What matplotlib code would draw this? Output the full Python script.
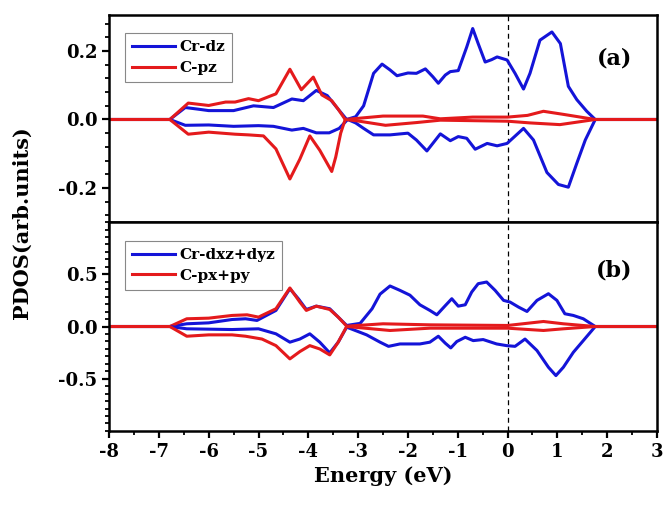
import numpy as np
import matplotlib
matplotlib.use("Agg")
import matplotlib.pyplot as plt
from matplotlib.ticker import MultipleLocator, FixedLocator

plt.rcParams['font.family'] = ['DejaVu Serif']
plt.rcParams['font.weight'] = 'bold'
plt.rcParams['axes.unicode_minus'] = False

# ---------------- Panel (a): Cr-dz / C-pz ----------------
a_cr_up_E = [-8, -6.78, -6.47, -6.2, -6.0, -5.5, -5.1, -4.7, -4.33, -4.1, -3.84, -3.62, -3.4, -3.23,
             -3.05, -2.89, -2.69, -2.52, -2.36, -2.22, -2.0, -1.83, -1.65, -1.5, -1.39, -1.25, -1.15, -0.99,
             -0.82, -0.70, -0.59, -0.45, -0.32, -0.21, -0.01, 0.15, 0.32, 0.45, 0.65, 0.89, 1.06,
             1.22, 1.39, 1.59, 1.76, 3.0]
a_cr_up = [0, 0, 0.035, 0.03, 0.026, 0.026, 0.04, 0.035, 0.06, 0.055, 0.085, 0.07, 0.03, 0.0,
           0.008, 0.04, 0.135, 0.162, 0.145, 0.128, 0.136, 0.135, 0.148, 0.125, 0.106, 0.13, 0.14, 0.143,
           0.212, 0.266, 0.222, 0.168, 0.175, 0.183, 0.174, 0.135, 0.089, 0.135, 0.232, 0.256, 0.222,
           0.097, 0.058, 0.024, 0.0, 0.0]

a_cr_dn_E = [-8, -6.78, -6.47, -6.0, -5.5, -5.0, -4.7, -4.33, -4.1, -3.84, -3.58, -3.38, -3.21,
             -3.05, -2.89, -2.69, -2.36, -2.0, -1.83, -1.62, -1.35, -1.15, -0.99, -0.82, -0.65, -0.41,
             -0.21, -0.01, 0.32, 0.52, 0.79, 1.02, 1.22, 1.39, 1.56, 1.76, 3.0]
a_cr_dn = [0, 0, -0.017, -0.016, -0.02, -0.018, -0.02, -0.031, -0.026, -0.039, -0.039, -0.026, 0.0,
           -0.01, -0.026, -0.045, -0.045, -0.04, -0.06, -0.092, -0.042, -0.062, -0.05, -0.055, -0.087, -0.07,
           -0.077, -0.07, -0.026, -0.06, -0.155, -0.19, -0.198, -0.128, -0.06, 0.0, 0.0]

a_c_up_E = [-8, -6.78, -6.41, -6.0, -5.66, -5.47, -5.2, -5.0, -4.65, -4.37, -4.14, -3.9, -3.73,
            -3.53, -3.4, -3.26, -2.5, -1.7, -1.35, -0.7, 0.0, 0.4, 0.72, 1.12, 1.76, 3.0]
a_c_up = [0, 0, 0.048, 0.041, 0.051, 0.051, 0.061, 0.055, 0.075, 0.147, 0.087, 0.124, 0.072,
          0.055, 0.03, 0.0, 0.01, 0.01, 0.002, 0.007, 0.007, 0.012, 0.024, 0.015, 0.0, 0.0]

a_c_dn_E = [-8, -6.78, -6.41, -6.0, -5.47, -5.2, -4.9, -4.65, -4.37, -4.17, -3.97, -3.77, -3.53,
            -3.45, -3.35, -3.26, -3.02, -2.45, -1.83, -1.35, 0.0, 0.45, 1.05, 1.76, 3.0]
a_c_dn = [0, 0, -0.043, -0.037, -0.043, -0.045, -0.048, -0.086, -0.174, -0.116, -0.048, -0.09, -0.152,
          -0.11, -0.04, 0.0, -0.004, -0.017, -0.009, -0.002, -0.005, -0.01, -0.015, 0.0, 0.0]

# ---------------- Panel (b): Cr-dxz+dyz / C-px+py ----------------
b_cr_up_E = [-8, -6.78, -6.44, -6.0, -5.53, -5.26, -5.03, -4.65, -4.37, -4.2, -4.04, -3.84, -3.57,
             -3.4, -3.23, -2.96, -2.72, -2.56, -2.36, -2.16, -1.96, -1.76, -1.56, -1.42, -1.25, -1.12,
             -0.99, -0.85, -0.72, -0.59, -0.42, -0.25, -0.08, 0.05, 0.22, 0.39, 0.59, 0.82, 0.99,
             1.15, 1.32, 1.52, 1.76, 3.0]
b_cr_up = [0, 0, 0.026, 0.035, 0.067, 0.074, 0.058, 0.154, 0.362, 0.266, 0.163, 0.195, 0.17,
           0.09, 0.01, 0.03, 0.17, 0.31, 0.388, 0.346, 0.3, 0.208, 0.154, 0.112, 0.2, 0.266,
           0.195, 0.208, 0.33, 0.41, 0.426, 0.346, 0.25, 0.234, 0.186, 0.144, 0.25, 0.314, 0.25,
           0.122, 0.106, 0.074, 0.0, 0.0]

b_cr_dn_E = [-8, -6.78, -6.44, -5.53, -5.0, -4.65, -4.37, -4.17, -3.97, -3.77, -3.57, -3.4, -3.23,
             -2.83, -2.56, -2.39, -2.16, -1.76, -1.56, -1.39, -1.25, -1.14, -1.02, -0.85, -0.69,
             -0.49, -0.22, -0.02, 0.15, 0.35, 0.59, 0.82, 0.97, 1.12, 1.32, 1.52, 1.76, 3.0]
b_cr_dn = [0, 0, -0.022, -0.029, -0.022, -0.07, -0.15, -0.12, -0.07, -0.15, -0.253, -0.15, -0.006,
           -0.08, -0.15, -0.19, -0.167, -0.167, -0.15, -0.093, -0.16, -0.205, -0.144, -0.103, -0.135,
           -0.125, -0.167, -0.183, -0.19, -0.12, -0.23, -0.39, -0.47, -0.39, -0.247, -0.135, 0.0, 0.0]

b_c_up_E = [-8, -6.78, -6.44, -6.0, -5.53, -5.23, -5.0, -4.65, -4.37, -4.17, -4.04, -3.84, -3.57,
            -3.4, -3.23, -2.5, -1.56, 0.0, 0.72, 1.12, 1.76, 3.0]
b_c_up = [0, 0, 0.074, 0.08, 0.106, 0.112, 0.09, 0.17, 0.369, 0.234, 0.154, 0.195, 0.163,
          0.09, 0.003, 0.026, 0.016, 0.01, 0.048, 0.026, 0.0, 0.0]

b_c_dn_E = [-8, -6.78, -6.44, -6.0, -5.53, -5.26, -4.93, -4.65, -4.37, -4.17, -3.97, -3.77, -3.57,
            -3.4, -3.23, -2.36, -1.56, 0.0, 0.72, 1.12, 1.76, 3.0]
b_c_dn = [0, 0, -0.093, -0.08, -0.08, -0.093, -0.12, -0.183, -0.31, -0.24, -0.183, -0.215, -0.272,
          -0.15, 0.0, -0.038, -0.016, -0.016, -0.038, -0.022, 0.0, 0.0]

labels_a = ["Cr-dz", "C-pz"]
labels_b = ["Cr-dxz+dyz", "C-px+py"]
xticks = list(range(-8, 4))

BLUE = '#1414d8'
RED = '#e41a1c'
LW = 2.2

fig = plt.figure(figsize=(6.65, 5.07), dpi=100)
ax_a = fig.add_axes([0.164, 0.562, 0.824, 0.408])
ax_b = fig.add_axes([0.164, 0.150, 0.824, 0.412])

def style(ax):
    for s in ax.spines.values():
        s.set_linewidth(1.8)
    ax.tick_params(axis='both', which='major', direction='out', length=5, width=1.6, labelsize=13)
    ax.tick_params(axis='both', which='minor', direction='out', length=3, width=1.3)
    ax.tick_params(top=False, right=False)
    ax.set_xlim(-8, 3)
    ax.xaxis.set_major_locator(FixedLocator(xticks))
    ax.xaxis.set_minor_locator(MultipleLocator(0.5))
    ax.axvline(0, color='black', lw=0.9, ls=(0, (4, 3)), zorder=1)

def legend(ax, anchor):
    leg = ax.legend(loc='upper left', bbox_to_anchor=anchor, borderaxespad=0,
                    fontsize=11, handlelength=2.8, handletextpad=0.3, borderpad=0.45,
                    labelspacing=0.45, fancybox=False, framealpha=1, edgecolor='#888888')
    leg.get_frame().set_linewidth(0.8)

# panel a
ax_a.plot(a_cr_up_E, a_cr_up, color=BLUE, lw=LW, label=labels_a[0], solid_joinstyle='round')
ax_a.plot(a_c_up_E, a_c_up, color=RED, lw=LW, label=labels_a[1], solid_joinstyle='round')
ax_a.plot(a_cr_dn_E, a_cr_dn, color=BLUE, lw=LW, solid_joinstyle='round')
ax_a.plot(a_c_dn_E, a_c_dn, color=RED, lw=LW, solid_joinstyle='round')
style(ax_a)
ax_a.set_ylim(-0.3, 0.305)
ax_a.yaxis.set_major_locator(FixedLocator([-0.2, 0.0, 0.2]))
ax_a.yaxis.set_minor_locator(MultipleLocator(0.04))
ax_a.set_yticklabels(['-0.2', '0.0', '0.2'])
ax_a.tick_params(axis='x', labelbottom=False)
ax_a.text(0.955, 0.79, '(a)', transform=ax_a.transAxes, ha='right', va='center',
          fontsize=16, fontweight='bold')
legend(ax_a, (0.029, 0.913))

# panel b
ax_b.plot(b_cr_up_E, b_cr_up, color=BLUE, lw=LW, label=labels_b[0], solid_joinstyle='round')
ax_b.plot(b_c_up_E, b_c_up, color=RED, lw=LW, label=labels_b[1], solid_joinstyle='round')
ax_b.plot(b_cr_dn_E, b_cr_dn, color=BLUE, lw=LW, solid_joinstyle='round')
ax_b.plot(b_c_dn_E, b_c_dn, color=RED, lw=LW, solid_joinstyle='round')
style(ax_b)
ax_b.set_ylim(-1.0, 1.0)
ax_b.yaxis.set_major_locator(FixedLocator([-0.5, 0.0, 0.5]))
ax_b.yaxis.set_minor_locator(MultipleLocator(0.5 / 7))
ax_b.set_yticklabels(['-0.5', '0.0', '0.5'])
ax_b.set_xticklabels([str(t) for t in xticks])
ax_b.text(0.955, 0.77, '(b)', transform=ax_b.transAxes, ha='right', va='center',
          fontsize=16, fontweight='bold')
legend(ax_b, (0.029, 0.909))
ax_b.set_xlabel('Energy (eV)', fontsize=15, fontweight='bold', labelpad=4)

fig.text(0.033, 0.56, 'PDOS(arb.units)', rotation=90, ha='center', va='center',
         fontsize=15, fontweight='bold')

fig.savefig('out.png', dpi=100)
